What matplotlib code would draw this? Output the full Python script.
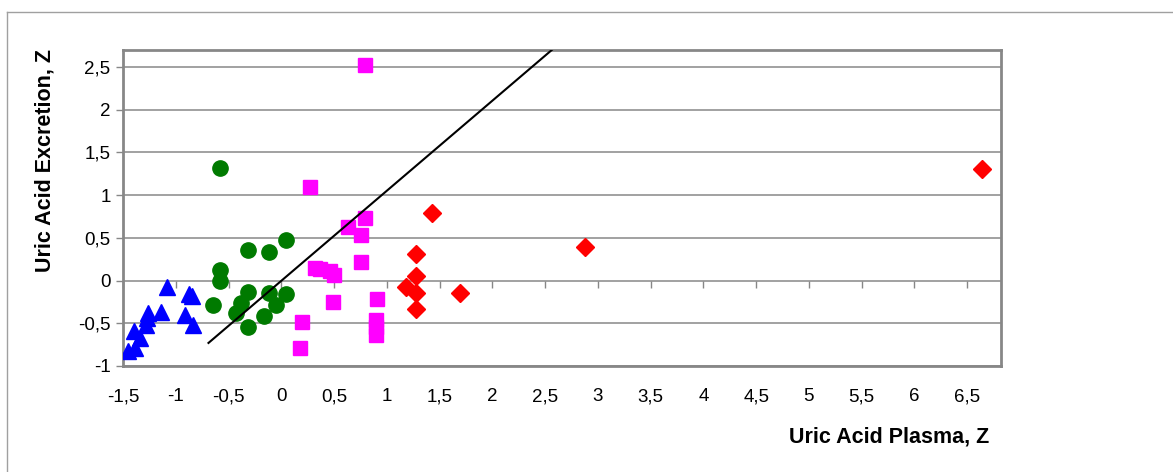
import matplotlib
matplotlib.use("Agg")
from matplotlib import pyplot as plt
from matplotlib.lines import Line2D

plt.rcParams['font.family'] = ['Liberation Sans', 'DejaVu Sans']

# Data (Z scores)
blue_x = [-1.45, -1.39, -1.40, -1.34, -1.28, -1.27, -1.26, -1.14, -1.08, -0.91, -0.87, -0.85, -0.84]
blue_y = [-0.82, -0.79, -0.59, -0.67, -0.52, -0.44, -0.38, -0.37, -0.07, -0.40, -0.16, -0.18, -0.52]

green_x = [-0.58, -0.58, -0.58, -0.65, -0.32, -0.12, 0.04, -0.32, -0.38, -0.43, -0.12, 0.04, -0.05, -0.16, -0.32]
green_y = [1.32, 0.12, 0.00, -0.28, 0.36, 0.33, 0.48, -0.13, -0.26, -0.38, -0.15, -0.16, -0.28, -0.41, -0.54]

pink_x = [0.79, 0.27, 0.63, 0.79, 0.76, 0.76, 0.32, 0.37, 0.46, 0.50, 0.49, 0.91, 0.20, 0.18, 0.90, 0.90, 0.90]
pink_y = [2.52, 1.10, 0.63, 0.73, 0.53, 0.22, 0.15, 0.14, 0.11, 0.06, -0.25, -0.21, -0.49, -0.79, -0.46, -0.54, -0.64]

red_x = [1.43, 1.28, 1.28, 1.18, 1.28, 1.28, 1.69, 2.88, 6.64]
red_y = [0.79, 0.31, 0.05, -0.08, -0.15, -0.33, -0.14, 0.39, 1.31]

fit_x = [-0.69, 2.62]
fit_y = [-0.73, 2.76]

x_ticks = [-1.5, -1, -0.5, 0, 0.5, 1, 1.5, 2, 2.5, 3, 3.5, 4, 4.5, 5, 5.5, 6, 6.5]
y_ticks = [-1, -0.5, 0, 0.5, 1, 1.5, 2, 2.5]


def comma(v):
    s = ('%g' % v).replace('.', ',')
    return s


fig = plt.figure(figsize=(11.73, 4.72), dpi=100)
ax = fig.add_axes([123 / 1173, 1 - 366 / 472, 878 / 1173, 316 / 472])

gray = '#878787'

# scatter groups
ax.plot(blue_x, blue_y, '^', color='#0000ff', ms=11, zorder=3)
ax.plot(green_x, green_y, 'o', color='#007a00', ms=11, zorder=3)
ax.plot(pink_x, pink_y, 's', color='#ff00ff', ms=10.5, zorder=3)
ax.plot(red_x, red_y, 'D', color='#ff0000', ms=9.5, zorder=3)
ax.plot(fit_x, fit_y, color='black', lw=1.5, zorder=4)

ax.set_xlim(-1.5, 6.82)
ax.set_ylim(-1, 2.7)

ax.set_xticks(x_ticks)
ax.set_xticklabels([comma(v) for v in x_ticks])
ax.set_yticks(y_ticks)
ax.set_yticklabels([comma(v) for v in y_ticks])
ax.tick_params(axis='x', length=0, pad=16, labelsize=13.5)
ax.tick_params(axis='y', direction='out', length=5, width=1, color=gray, labelsize=13.5, pad=4)

ax.grid(axis='y', color=gray, lw=1.1)
ax.set_axisbelow(True)
for sp in ax.spines.values():
    sp.set_color(gray)
    sp.set_linewidth(2)

# x tick marks sit on the zero line
ymin, ymax = ax.get_ylim()
sec = ax.secondary_xaxis((0 - ymin) / (ymax - ymin))
sec.set_xticks(x_ticks)
sec.xaxis.set_ticks_position('bottom')
sec.tick_params(axis='x', direction='out', length=5, width=1, color=gray, labelbottom=False, labeltop=False)
sec.spines['bottom'].set_visible(False)
sec.spines['top'].set_visible(False)

fig.text(45 / 1173, 1 - 160 / 472, 'Uric Acid Excretion, Z', rotation=90, ha='center', va='center',
         fontsize=15.5, fontweight='bold')
fig.text(889 / 1173, 1 - 437 / 472, 'Uric Acid Plasma, Z', ha='center', va='center',
         fontsize=15.5, fontweight='bold')

# outer chart frame
fig.add_artist(Line2D([7 / 1173, 1], [1 - 12 / 472, 1 - 12 / 472], color='#a0a0a0', lw=1))
fig.add_artist(Line2D([7 / 1173, 7 / 1173], [0, 1 - 12 / 472], color='#a0a0a0', lw=1))

fig.savefig('out.png', dpi=100)
